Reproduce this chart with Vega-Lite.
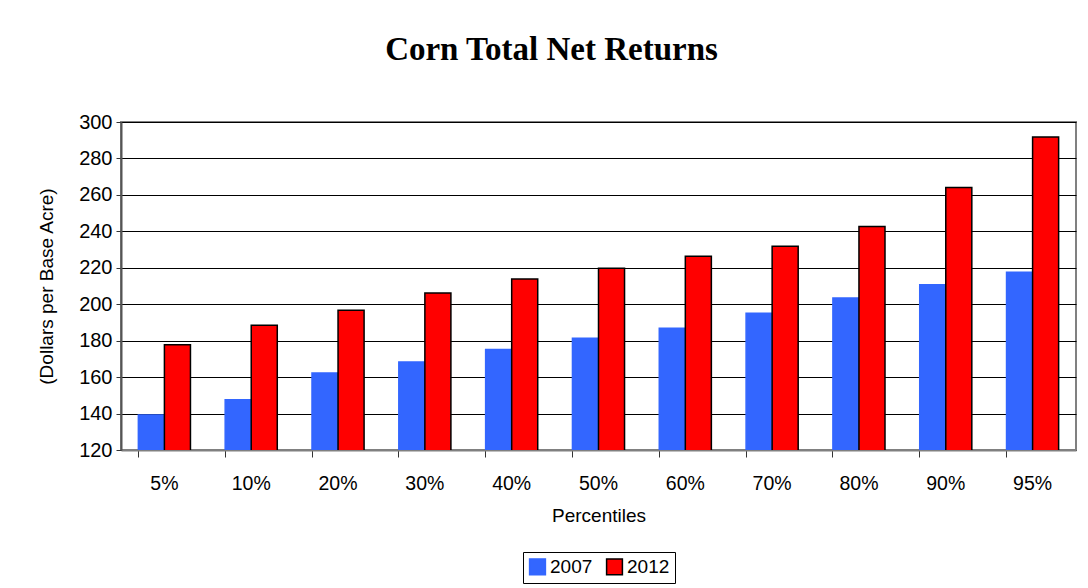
{
  "$schema": "https://vega.github.io/schema/vega-lite/v6.json",
  "autosize": {"type": "none"},
  "width": 955,
  "height": 328,
  "padding": {"left": 121, "top": 122, "right": 12, "bottom": 138},
  "background": "white",
  "title": {
    "text": "Corn Total Net Returns",
    "font": "Liberation Serif",
    "fontSize": 33,
    "fontWeight": "bold",
    "color": "black",
    "anchor": "middle",
    "dx": -47,
    "offset": 45
  },
  "data": {
    "values": [
      {"pct": "5%", "year": "2007", "value": 139.2},
      {"pct": "5%", "year": "2012", "value": 177.8},
      {"pct": "10%", "year": "2007", "value": 147.6},
      {"pct": "10%", "year": "2012", "value": 188.4},
      {"pct": "20%", "year": "2007", "value": 162.3},
      {"pct": "20%", "year": "2012", "value": 196.7},
      {"pct": "30%", "year": "2007", "value": 168.3},
      {"pct": "30%", "year": "2012", "value": 206.2},
      {"pct": "40%", "year": "2007", "value": 175.1},
      {"pct": "40%", "year": "2012", "value": 213.8},
      {"pct": "50%", "year": "2007", "value": 181.3},
      {"pct": "50%", "year": "2012", "value": 219.7},
      {"pct": "60%", "year": "2007", "value": 186.8},
      {"pct": "60%", "year": "2012", "value": 226.3},
      {"pct": "70%", "year": "2007", "value": 195.0},
      {"pct": "70%", "year": "2012", "value": 231.8},
      {"pct": "80%", "year": "2007", "value": 203.4},
      {"pct": "80%", "year": "2012", "value": 242.6},
      {"pct": "90%", "year": "2007", "value": 210.7},
      {"pct": "90%", "year": "2012", "value": 264.1},
      {"pct": "95%", "year": "2007", "value": 217.5},
      {"pct": "95%", "year": "2012", "value": 291.8}
    ]
  },
  "mark": {"type": "bar", "clip": true, "strokeWidth": 1.5},
  "encoding": {
    "x": {
      "field": "pct",
      "type": "nominal",
      "sort": null,
      "scale": {"paddingInner": 0.4, "paddingOuter": 0.2},
      "axis": {
        "title": "Percentiles",
        "titleFont": "Liberation Sans",
        "titleFontSize": 19,
        "titleFontWeight": "normal",
        "titleColor": "black",
        "titlePadding": 14,
        "labelFont": "Liberation Sans",
        "labelFontSize": 19.5,
        "labelColor": "black",
        "labelAngle": 0,
        "labelPadding": 17,
        "bandPosition": 0,
        "tickSize": 7,
        "tickColor": "#333333",
        "domainColor": "#808080",
        "domainWidth": 2
      }
    },
    "xOffset": {"field": "year", "type": "nominal", "scale": {"paddingInner": 0, "paddingOuter": 0}},
    "y": {
      "field": "value",
      "type": "quantitative",
      "scale": {"domain": [120, 300], "zero": false, "nice": false},
      "axis": {
        "title": "(Dollars per Base Acre)",
        "titleFont": "Liberation Sans",
        "titleFontSize": 19,
        "titleFontWeight": "normal",
        "titleColor": "black",
        "titlePadding": 22,
        "labelFont": "Liberation Sans",
        "labelFontSize": 20,
        "labelColor": "black",
        "labelPadding": 4,
        "values": [120, 140, 160, 180, 200, 220, 240, 260, 280, 300],
        "tickSize": 5,
        "tickColor": "#333333",
        "domainColor": "#555555",
        "domainWidth": 2,
        "grid": true,
        "gridColor": "black",
        "gridWidth": 1
      }
    },
    "color": {
      "field": "year",
      "type": "nominal",
      "scale": {"domain": ["2007", "2012"], "range": ["#3366FF", "#FF0000"]},
      "legend": {
        "title": null,
        "orient": "none",
        "direction": "horizontal",
        "legendX": 402,
        "legendY": 430,
        "labelFont": "Liberation Sans",
        "labelFontSize": 19,
        "labelColor": "black",
        "symbolType": "square",
        "symbolSize": 250,
        "symbolStrokeWidth": 1.5,
        "columnPadding": 10,
        "labelOffset": 3,
        "strokeColor": "black",
        "padding": 5
      }
    },
    "stroke": {
      "field": "year",
      "type": "nominal",
      "scale": {"domain": ["2007", "2012"], "range": ["#3366FF", "black"]}
    }
  },
  "config": {
    "view": {"stroke": "#808080", "strokeWidth": 2},
    "axis": {"gridOpacity": 1}
  }
}
